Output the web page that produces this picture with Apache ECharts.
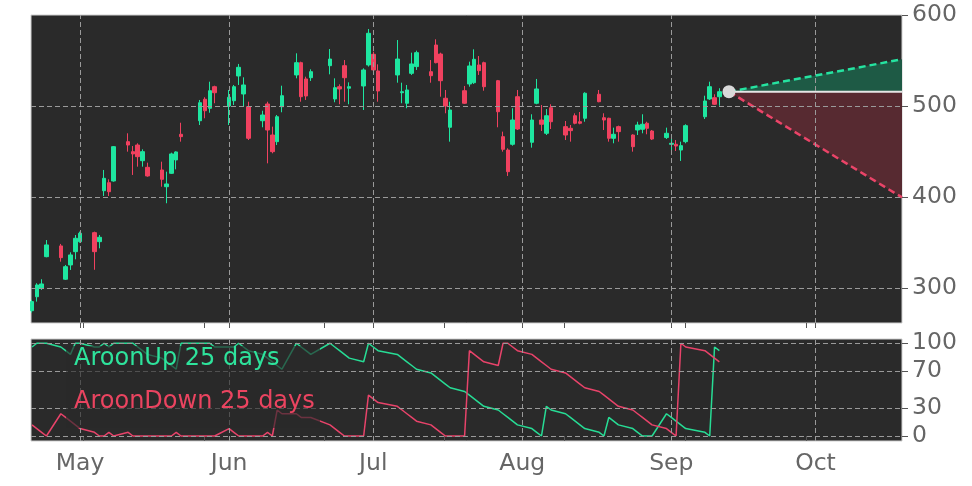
<!DOCTYPE html>
<html><head><meta charset="utf-8">
<script src="https://cdn.jsdelivr.net/npm/echarts@6/dist/echarts.min.js"></script>
<style>html,body{margin:0;padding:0;background:#fff}#c{width:972px;height:486px}</style>
</head><body><div id="c"></div>
<script>
const dates = ['2020-04-21','2020-04-22','2020-04-23','2020-04-24','2020-04-27','2020-04-28','2020-04-29','2020-04-30','2020-05-01',
'2020-05-04','2020-05-05','2020-05-06','2020-05-07','2020-05-08','2020-05-11','2020-05-12','2020-05-13','2020-05-14','2020-05-15',
'2020-05-18','2020-05-19','2020-05-20','2020-05-21','2020-05-22','2020-05-26','2020-05-27','2020-05-28','2020-05-29',
'2020-06-01','2020-06-02','2020-06-03','2020-06-04','2020-06-05','2020-06-08','2020-06-09','2020-06-10','2020-06-11','2020-06-12',
'2020-06-15','2020-06-16','2020-06-17','2020-06-18','2020-06-22','2020-06-23','2020-06-24','2020-06-25','2020-06-26',
'2020-06-29','2020-06-30','2020-07-01','2020-07-02','2020-07-06','2020-07-07','2020-07-08','2020-07-09','2020-07-10',
'2020-07-13','2020-07-14','2020-07-15','2020-07-16','2020-07-17','2020-07-20','2020-07-21','2020-07-22','2020-07-23','2020-07-24',
'2020-07-27','2020-07-28','2020-07-29','2020-07-30','2020-07-31','2020-08-03','2020-08-04','2020-08-05','2020-08-06','2020-08-07',
'2020-08-10','2020-08-11','2020-08-12','2020-08-13','2020-08-14','2020-08-17','2020-08-18','2020-08-19','2020-08-20','2020-08-21',
'2020-08-24','2020-08-25','2020-08-26','2020-08-27','2020-08-28','2020-08-31','2020-09-01','2020-09-02','2020-09-03','2020-09-04',
'2020-09-08','2020-09-09','2020-09-10','2020-09-11'];
const open = [275,290.4,299.6,334.4,346.2,309.6,325.3,339.9,350.9,
360.8,350.9,406.9,415.7,417.6,460.8,449.8,457.1,439.9,432.6,
429.7,411.3,426.0,440.7,468.9,483.8,507.4,497.5,521.2,
500.0,505.8,533.0,513.2,499.2,483.8,502.2,468.1,460.8,499.2,
534.1,547.6,529.7,531.1,544.3,507.7,521.2,544.3,519.5,
522.0,545.1,556.8,538.5,534.1,514.6,503.0,535.9,543.3,
537.7,567.0,557.1,508.5,476.6,516.8,524.2,525.6,545.1,547.6,
527.8,466.3,451.6,457.9,510.2,460.1,503.0,484.6,470.0,498.1,
477.3,475.5,489.3,482.7,486.5,512.9,487.1,486.5,464.5,477.3,
468.1,473.6,474.4,481.0,472.5,465.3,457.9,457.9,451.6,460.8,
488.2,507.7,509.1,510.2];
const close = [285,303.3,304.4,347.3,333.3,323.4,336.3,354.6,360.1,
339.9,355.7,420.5,405.8,455.3,457.1,447.3,444.3,449.8,423.1,
419.4,414.3,447.3,449.5,466.3,503.6,494.8,516.8,514.6,
509.6,521.2,542.5,523.1,464.5,490.1,473.6,449.8,488.2,511.3,
547.6,510.2,511.0,537.7,551.6,520.1,518.7,531.1,521.2,
539.6,579.9,539.6,516.5,551.6,515.7,517.6,546.2,558.6,
533.3,547.6,527.8,500.0,495.6,503.0,544.0,551.3,538.8,521.2,
493.7,452.4,427.8,484.6,474.7,484.6,518.7,479.9,489.3,482.7,
468.1,472.9,481.0,481.0,514.0,504.7,484.6,464.5,468.9,471.8,
455.3,479.1,479.9,475.5,463.7,470.0,459.0,456.0,456.4,478.4,
505.5,521.2,501.9,515.7];
const low = [273,285.0,297.8,333.7,328.9,308.8,319.8,331.5,349.8,
320,343.6,401.1,401.1,416.8,449.8,424.2,433.3,433.3,422.3,
411.3,393.1,425.3,430.4,460.8,479.1,486.5,492.6,503.0,
479.1,501.1,523.1,499.2,462.6,476.6,437.0,448.0,457.1,493.1,
530.4,504.7,506.6,527.5,534.8,504.1,501.9,504.7,501.9,
495.6,543.3,537.7,504.7,525.6,503.0,497.5,534.1,539.6,
525.6,546.9,510.2,492.0,460.8,502.2,521.2,524.2,534.1,516.8,
476.6,449.8,423.1,456.4,473.6,454.2,501.9,472.5,468.1,474.7,
462.6,460.8,479.9,479.9,482.7,504.1,473.6,460.8,459.0,460.8,
449.8,468.1,470.0,468.9,462.6,463.7,448.0,450.5,439.6,459.0,
485.7,506.6,501.1,500.3];
const high = [287,305.2,309.6,352.7,348.4,325.3,339.2,358.2,361.9,
361.9,358.2,429.7,419.4,456.0,470.0,456.0,459.0,452.4,437.7,
438.8,427.8,448.7,450.2,481.6,506.6,509.6,526.7,522.3,
517.6,523.1,546.2,531.5,504.7,494.8,504.7,477.3,490.1,522.3,
557.9,548.7,532.2,540.3,562.6,530.4,523.8,550.5,526.0,
541.4,584.6,559.7,545.8,572.5,525.6,523.1,558.6,560.8,
550.5,573.3,558.6,517.6,504.7,522.0,548.7,562.3,554.9,548.7,
528.6,471.8,453.5,497.5,517.6,490.9,529.7,501.1,496.7,501.9,
483.5,479.1,491.9,493.4,515.1,517.6,492.0,487.1,476.2,478.4,
468.9,482.7,490.9,482.7,473.6,476.2,466.3,462.6,460.8,479.9,
511.3,526.7,512.9,519.5];
const aroonUp = [96,100,100,100,96,92,88,100,100,
96,96,100,96,100,100,100,96,92,88,
84,80,76,72,100,100,100,100,96,
96,96,100,96,92,88,84,80,76,72,
100,96,92,88,100,96,92,88,84,
80,100,96,92,88,84,80,76,72,
68,64,60,56,52,48,44,40,36,32,
28,24,20,16,12,8,4,0,32,28,
24,20,16,12,8,4,0,20,16,12,
8,4,0,0,0,24,20,16,12,8,
4,0,96,92];
const aroonDown = [12,8,4,0,24,20,16,12,8,
4,0,0,4,0,4,0,0,0,0,
0,0,0,4,0,0,0,0,0,
8,4,0,0,0,0,4,0,28,24,
24,20,20,20,12,8,4,0,0,
0,44,40,36,32,28,24,20,16,
12,8,4,0,0,0,92,88,84,80,
76,100,100,96,92,88,84,80,76,72,
68,64,60,56,52,48,44,40,36,32,
28,24,20,16,12,8,4,0,100,96,
92,88,84,80];
const priceTicks = [300,400,500,600];
const aroonTicks = [0,30,70,100];
const monthTicks = ['2020-05-01','2020-06-01','2020-07-01','2020-08-01','2020-09-01','2020-10-01'];
const monthLabels = ['May','Jun','Jul','Aug','Sep','Oct'];
const extraTicks = ['2020-05-01 17:00','2020-05-26 19:00','2020-06-20 19:00','2020-07-15 19:00','2020-08-09 19:00','2020-09-03 21:00','2020-09-29 02:00'];
const projStart = '2020-09-13', projEnd = '2020-10-19';
const projBase = 515.7, projUp = 551.3, projDown = 399.5;
const xMin = '2020-04-20 19:00', xMax = '2020-10-19 00:00';
const legendItems = ['AroonUp 25 days','AroonDown 25 days'];

function T(s){const p=s.split(' ');const d=p[0].split('-').map(Number);const t=(p[1]||'0:0').split(':').map(Number);return new Date(d[0],d[1]-1,d[2],t[0],t[1]).getTime();}

const UP='#1ee6a0', DOWN='#f0415f', GRIDC='#9a9a9a', LAB='#666666', FONT='DejaVu Sans';
const candleData = dates.map((d,i)=>[T(d),open[i],close[i],low[i],high[i]]);
const upData = dates.map((d,i)=>[T(d),aroonUp[i]]);
const downData = dates.map((d,i)=>[T(d),aroonDown[i]]);
const monthTs = monthTicks.map(T);
const tickTs = monthTs.concat(extraTicks.map(T));

function xAxisCfg(gi, showLabel){
  return {type:'value', gridIndex:gi, min:T(xMin), max:T(xMax), scale:true,
    axisLine:{show:false}, splitLine:{show:false},
    axisTick:{show:true, customValues:tickTs, length:5, lineStyle:{color:'#555',width:1}},
    axisLabel:{show:showLabel, customValues:monthTs, margin:11, color:LAB, fontSize:23.5, fontFamily:FONT,
      formatter:(v)=>{let best=0,bd=Infinity; monthTs.forEach((m,i)=>{const dd=Math.abs(m-v); if(dd<bd){bd=dd;best=i;}}); return monthLabels[best];}}};
}
function yAxisCfg(gi,mn,mx,ticks){
  return {type:'value', gridIndex:gi, position:'right', min:mn, max:mx, scale:true,
    axisLine:{show:false}, splitLine:{show:false},
    axisTick:{show:true, customValues:ticks, length:6, lineStyle:{color:'#555',width:1}},
    axisLabel:{customValues:ticks, margin:10, color:LAB, fontSize:23.5, fontFamily:FONT}};
}
const gl = {type:[5,3], color:GRIDC, width:1};
function gridSeries(xi, yvals){
  return {type:'line', xAxisIndex:xi, yAxisIndex:xi, data:[], z:1, silent:true,
    markLine:{silent:true, symbol:['none','none'], label:{show:false}, lineStyle:gl, animation:false,
      data: yvals.map(v=>({yAxis:v})).concat(monthTs.map(t=>({xAxis:t})))}};
}

const chart = echarts.init(document.getElementById('c'), null, {renderer:'canvas'});
chart.setOption({
  animation:false,
  backgroundColor:'#ffffff',
  grid:[
    {left:31, top:15, width:871, height:308, show:true, backgroundColor:'#2a2a2a', borderColor:'#cfcfcf', borderWidth:1},
    {left:31, top:339, width:871, height:102, show:true, backgroundColor:'#2a2a2a', borderColor:'#cfcfcf', borderWidth:1}
  ],
  xAxis:[xAxisCfg(0,false), xAxisCfg(1,true)],
  yAxis:[yAxisCfg(0,261.5,600,priceTicks), yAxisCfg(1,-5.4,104.6,aroonTicks)],
  graphic:[
    {type:'rect', z:100, shape:{x:66,y:346,width:254,height:82}, style:{fill:'rgba(42,42,42,0.65)'}},
    {type:'text', z:101, style:{x:74, y:359, text:legendItems[0], fill:'#2ee39c', font:'24px "DejaVu Sans"', verticalAlign:'middle'}},
    {type:'text', z:101, style:{x:74, y:402, text:legendItems[1], fill:'#ea4460', font:'24px "DejaVu Sans"', verticalAlign:'middle'}}
  ],
  series:[
    gridSeries(0, [300,400,500]),
    gridSeries(1, aroonTicks),
    {type:'custom', xAxisIndex:0, yAxisIndex:0, z:2, silent:true,
      encode:{x:[0,2], y:[1,3,4]},
      data:[[T(projStart), projBase, T(projEnd), projUp, projDown]],
      renderItem:(params, api)=>{
        const s=api.coord([api.value(0),api.value(1)]);
        const eU=api.coord([api.value(2),api.value(3)]);
        const eB=api.coord([api.value(2),api.value(1)]);
        const eD=api.coord([api.value(2),api.value(4)]);
        return {type:'group', children:[
          {type:'polygon', shape:{points:[s,eU,eB]}, style:{fill:'#1e5a45'}},
          {type:'polygon', shape:{points:[s,eB,eD]}, style:{fill:'#572a31'}}
        ]};
      }},
    {type:'candlestick', xAxisIndex:0, yAxisIndex:0, z:3, barWidth:4,
      data:candleData,
      itemStyle:{color:UP, color0:DOWN, borderColor:UP, borderColor0:DOWN, borderWidth:1}},
    {type:'line', xAxisIndex:0, yAxisIndex:0, z:4, showSymbol:false, silent:true,
      data:[[T(projStart),projBase],[T(projEnd),projUp]], lineStyle:{color:'#25e3a0', width:2.5, type:[7,4]}},
    {type:'line', xAxisIndex:0, yAxisIndex:0, z:4, showSymbol:false, silent:true,
      data:[[T(projStart),projBase],[T(projEnd),projDown]], lineStyle:{color:'#ea4468', width:2.5, type:[7,4]}},
    {type:'line', xAxisIndex:0, yAxisIndex:0, z:4, showSymbol:false, silent:true,
      data:[[T(projStart),projBase],[T(projEnd),projBase]], lineStyle:{color:'#e6e6e6', width:2}},
    {type:'scatter', xAxisIndex:0, yAxisIndex:0, z:5, symbolSize:13, silent:true,
      data:[[T(projStart),projBase]], itemStyle:{color:'#d9d9d9', opacity:1}},
    {type:'line', name:legendItems[0], xAxisIndex:1, yAxisIndex:1, z:3, showSymbol:false, silent:true,
      data:upData, lineStyle:{color:'#27dc95', width:1.5}},
    {type:'line', name:legendItems[1], xAxisIndex:1, yAxisIndex:1, z:3, showSymbol:false, silent:true,
      data:downData, lineStyle:{color:'#e8436a', width:1.5}}
  ]
});
</script></body></html>
